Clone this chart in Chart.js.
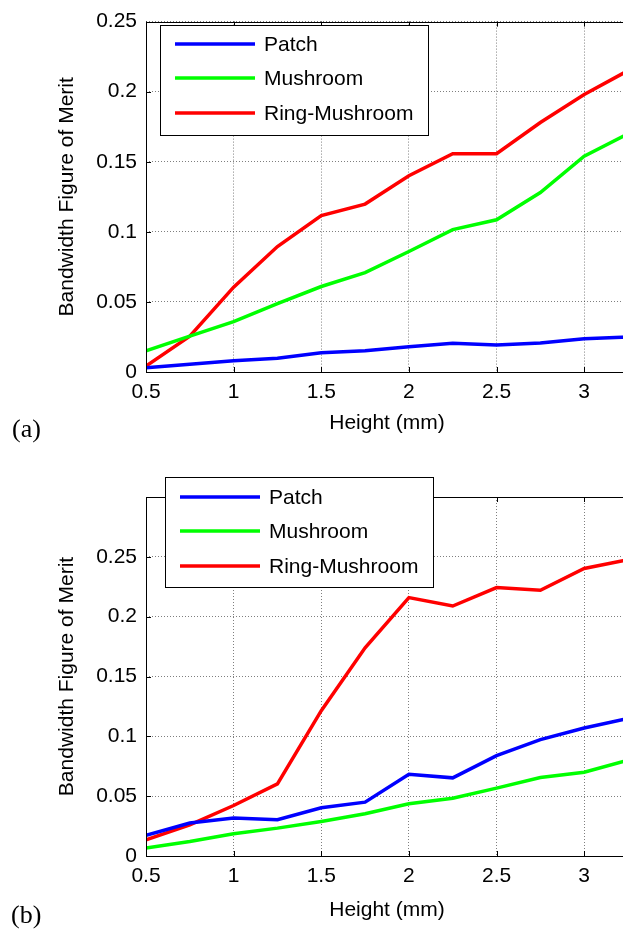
<!DOCTYPE html>
<html>
<head>
<meta charset="utf-8">
<script src="https://cdn.jsdelivr.net/npm/chart.js@4.4.1/dist/chart.umd.min.js"></script>
<style>
    body { margin: 0; background: #fff; overflow: hidden; width: 623px; height: 932px; position: relative; }
    canvas { position: absolute; left: 0; }
    #chartA { top: 0; }
    #chartB { top: 445px; }
    .tag { position: absolute; font-family: "Liberation Serif", "Times New Roman", serif; font-size: 26px; line-height: 30px; color: #000; }
</style>
</head>
<body>
<canvas id="chartA" width="640" height="445"></canvas>
<canvas id="chartB" width="640" height="487"></canvas>
<div class="tag" style="left:12px; top:414px;">(a)</div>
<div class="tag" style="left:11px; top:900px;">(b)</div>
<script>
// heights in mm
var heights = [0.5, 0.75, 1, 1.25, 1.5, 1.75, 2, 2.25, 2.5, 2.75, 3, 3.25];
var seriesNames = ['Patch', 'Mushroom', 'Ring-Mushroom'];
var seriesColors = ['#0000ff', '#00ff00', '#ff0000'];

// (a)
var patchA = [0.003, 0.0056, 0.0081, 0.0098, 0.0137, 0.0151, 0.018, 0.0205, 0.0193, 0.0207, 0.0237, 0.025];
var mushA = [0.0151, 0.0256, 0.036, 0.0488, 0.061, 0.0709, 0.086, 0.1016, 0.1086, 0.128, 0.154, 0.170];
var ringA = [0.0042, 0.0256, 0.0605, 0.0895, 0.1116, 0.1198, 0.140, 0.1558, 0.1558, 0.178, 0.198, 0.215];

// (b)
var patchB = [0.0172, 0.0275, 0.0317, 0.0303, 0.0403, 0.045, 0.0683, 0.0653, 0.0839, 0.0972, 0.107, 0.115];
var mushB = [0.0067, 0.0122, 0.0186, 0.0233, 0.0289, 0.0353, 0.0436, 0.0483, 0.0567, 0.0656, 0.070, 0.080];
var ringB = [0.0136, 0.026, 0.0422, 0.0603, 0.1214, 0.174, 0.2159, 0.2089, 0.2243, 0.2221, 0.2403, 0.2475];

// tick labels
var xTicks = [0.5, 1, 1.5, 2, 2.5, 3];
var yTicksA = [0, 0.05, 0.1, 0.15, 0.2, 0.25];
var yTicksB = [0, 0.05, 0.1, 0.15, 0.2, 0.25];

var FONT = '"Liberation Sans", Arial, sans-serif';

function toPoints(vals) {
    var pts = [];
    for (var i = 0; i < vals.length; i++) {
        pts.push({ x: heights[i], y: vals[i] });
    }
    return pts;
}

// axes box, inward ticks and the legend, matlab style
var matlabBox = {
    id: 'matlabBox',
    afterDraw: function (chart, args, opts) {
        var ctx = chart.ctx, a = chart.chartArea;
        var xs = chart.scales.x, ys = chart.scales.y;
        ctx.save();
        ctx.strokeStyle = '#000';
        ctx.lineWidth = 1;
        ctx.setLineDash([]);
        ctx.strokeRect(Math.round(a.left) + 0.5, Math.round(a.top) + 0.5, Math.round(a.right - a.left), Math.round(a.bottom - a.top));
        ctx.beginPath();
        xs.ticks.forEach(function (t) {
            var px = Math.round(xs.getPixelForValue(t.value)) + 0.5;
            ctx.moveTo(px, a.bottom); ctx.lineTo(px, a.bottom - 5);
            ctx.moveTo(px, a.top); ctx.lineTo(px, a.top + 5);
        });
        ys.ticks.forEach(function (t) {
            var py = Math.round(ys.getPixelForValue(t.value)) + 0.5;
            ctx.moveTo(a.left, py); ctx.lineTo(a.left + 5, py);
            ctx.moveTo(a.right, py); ctx.lineTo(a.right - 5, py);
        });
        ctx.stroke();

        // legend
        var L = opts.box;
        ctx.fillStyle = '#fff';
        ctx.fillRect(L.x, L.y, L.w, L.h);
        ctx.strokeRect(L.x + 0.5, L.y + 0.5, L.w, L.h);
        ctx.font = '21px ' + FONT;
        ctx.textBaseline = 'middle';
        ctx.textAlign = 'left';
        chart.data.datasets.forEach(function (ds, i) {
            var y = opts.rows[i];
            ctx.strokeStyle = ds.borderColor;
            ctx.lineWidth = 3.5;
            ctx.beginPath();
            ctx.moveTo(L.x + 15, y); ctx.lineTo(L.x + 95, y);
            ctx.stroke();
            ctx.fillStyle = '#000';
            ctx.fillText(ds.label, L.x + 104, y + 1);
        });
        ctx.restore();
    }
};

function buildChart(id, patch, mush, ring, yMax, yTicks, padTop, xAxisH, legendOpts) {
    var ctx = document.getElementById(id).getContext('2d');
    var sets = [patch, mush, ring];
    var datasets = [];
    for (var i = 0; i < sets.length; i++) {
        datasets.push({
            label: seriesNames[i],
            data: toPoints(sets[i]),
            borderColor: seriesColors[i],
            backgroundColor: seriesColors[i],
            borderWidth: 3.5,
            pointRadius: 0,
            tension: 0,
            fill: false
        });
    }
    return new Chart(ctx, {
        type: 'line',
        data: { datasets: datasets },
        options: {
            responsive: false,
            animation: false,
            layout: { padding: { top: padTop, right: 12, left: 0, bottom: 0 } },
            plugins: {
                legend: { display: false },
                tooltip: { enabled: false },
                matlabBox: legendOpts
            },
            scales: {
                x: {
                    type: 'linear',
                    min: 0.5,
                    max: 3.25,
                    afterBuildTicks: function (scale) {
                        scale.ticks = xTicks.map(function (v) { return { value: v }; });
                    },
                    afterFit: function (scale) { scale.height = xAxisH; },
                    grid: { color: 'rgba(0,0,0,0.5)', lineWidth: 1, drawTicks: false },
                    border: { display: false, dash: [1, 2] },
                    ticks: {
                        autoSkip: false, maxRotation: 0, padding: 8, color: '#000',
                        font: { family: FONT, size: 21 },
                        callback: function (v) { return String(v); }
                    },
                    title: {
                        display: true, text: 'Height (mm)', color: '#000',
                        font: { family: FONT, size: 21 },
                        padding: { top: 0, bottom: 9 }
                    }
                },
                y: {
                    type: 'linear',
                    min: 0,
                    max: yMax,
                    afterBuildTicks: function (scale) {
                        scale.ticks = yTicks.map(function (v) { return { value: v }; });
                    },
                    afterFit: function (scale) { scale.width = 146; },
                    grid: { color: 'rgba(0,0,0,0.5)', lineWidth: 1, drawTicks: false },
                    border: { display: false, dash: [1, 2] },
                    ticks: {
                        autoSkip: false, padding: 9, color: '#000',
                        font: { family: FONT, size: 21 },
                        callback: function (v) { return String(v); }
                    },
                    title: {
                        display: true, text: 'Bandwidth Figure of Merit', color: '#000',
                        font: { family: FONT, size: 21 },
                        padding: { top: 55, bottom: 0 }
                    }
                }
            }
        },
        plugins: [matlabBox]
    });
}

buildChart('chartA', patchA, mushA, ringA, 0.25, yTicksA, 15, 73, {
    box: { x: 160, y: 25, w: 268, h: 110 },
    rows: [44, 78, 113]
});
buildChart('chartB', patchB, mushB, ringB, 0.3, yTicksB, 52, 76, {
    box: { x: 165, y: 32, w: 268, h: 110 },
    rows: [52, 86, 121]
});
</script>
</body>
</html>
